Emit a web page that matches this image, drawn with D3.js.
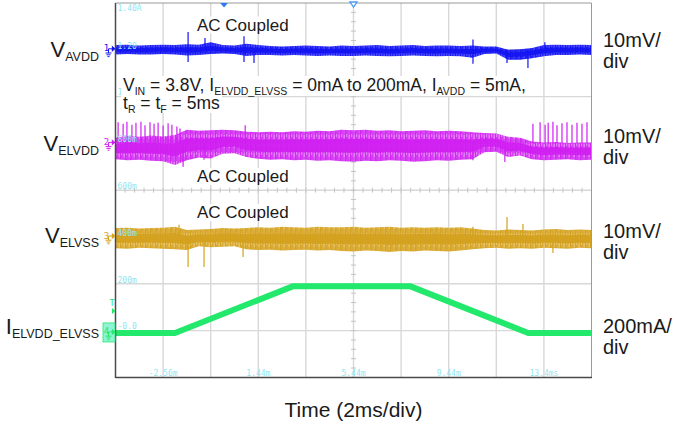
<!DOCTYPE html>
<html>
<head>
<meta charset="utf-8">
<script src="https://cdn.jsdelivr.net/npm/d3@7/dist/d3.min.js"></script>
<style>
  html, body { margin: 0; padding: 0; background: #fff; }
  svg { display: block; font-family: "Liberation Sans", Arial, sans-serif; }
</style>
</head>
<body>
<svg id="scope" width="677" height="428"></svg>
<script>
// ---- Acquisition data -------------------------------------------------
// Envelope sample instants, ms relative to the trigger
const sampleTimes = [-4.56, -4.06, -3.56, -3.06, -2.56, -2.06, -1.56, -1.06, -0.56, -0.06,
  0.44, 0.94, 1.44, 1.94, 2.44, 2.94, 3.44, 3.94, 4.44, 4.94,
  5.44, 5.94, 6.44, 6.94, 7.44, 7.94, 8.44, 8.94, 9.44, 9.94,
  10.44, 10.94, 11.44, 11.94, 12.44, 12.94, 13.44, 13.94, 14.44, 14.94, 15.44];

// CH1  V_AVDD ripple envelope (mV, AC coupled)
const avddHigh = [1.0, 1.1, 0.9, 1.0, 1.1, 1.0, 1.2, 1.1, 1.6, 1.0,
  0.9, 1.3, 1.0, 0.8, 0.7, 0.8, 0.9, 0.8, 0.7, 0.9,
  0.8, 0.9, 1.0, 0.8, 0.9, 1.0, 0.8, 0.9, 0.9, 0.8,
  0.9, 0.7, 0.7, 0.0, 0.1, 0.4, 1.0, 1.1, 1.0, 1.1, 1.0];
const avddLow = [-1.0, -0.9, -1.0, -1.0, -0.9, -1.0, -1.2, -1.1, -0.9, -0.8,
  -0.9, -1.3, -1.1, -1.1, -1.2, -1.1, -1.2, -1.3, -1.2, -1.3,
  -1.3, -1.2, -1.3, -1.4, -1.3, -1.2, -1.3, -1.4, -1.3, -1.4,
  -1.7, -0.9, -0.8, -2.1, -2.1, -1.8, -1.4, -1.1, -1.1, -1.0, -1.1];
const avddSpikes = [[-1.51, 3.8], [-1.51, -2.6], [-0.80, 2.5], [0.84, 2.9], [0.84, -2.6],
  [1.26, -2.8], [10.46, 2.2], [10.46, -3.0], [11.89, -2.8], [12.77, -3.9], [13.48, 1.6]];

// CH2  V_ELVDD ripple envelope (mV, AC coupled)
const elvddHigh = [1.2, 1.6, 1.4, 1.7, 1.5, 1.8, 2.9, 2.7, 2.8, 2.9,
  2.8, 2.5, 2.4, 2.5, 2.4, 2.6, 2.5, 2.7, 2.6, 2.9,
  2.8, 2.9, 2.7, 2.8, 2.6, 2.7, 2.8, 2.6, 2.7, 2.6,
  2.4, 2.2, 2.1, 1.4, 1.2, 0.4, 0.2, 0.3, 0.1, 0.2, 0.2];
const elvddLow = [-3.4, -3.6, -3.5, -3.7, -3.8, -4.6, -3.6, -3.0, -3.2, -2.2,
  -2.1, -2.9, -3.3, -3.5, -3.4, -3.6, -3.5, -3.7, -3.6, -3.8,
  -3.9, -3.7, -3.8, -3.6, -3.7, -3.9, -3.8, -3.6, -3.7, -3.5,
  -3.4, -1.9, -1.8, -2.9, -2.6, -3.4, -3.6, -3.5, -3.4, -3.6, -3.5];
const elvddSpikes = [[-4.45, 4.5], [-4.24, 4.2], [-4.08, 4.6], [-3.87, 4.0], [-3.70, 4.4],
  [-3.49, 4.6], [-3.32, 3.9], [-3.11, 4.5], [-2.94, 4.2], [-2.77, 4.4], [-2.56, 3.8],
  [-2.35, 4.3], [-2.19, 4.0], [-1.98, 3.6], [-1.85, 3.2], [-1.72, -5.0], [-0.84, -3.5],
  [0.89, 3.9], [10.46, -3.6], [11.80, -4.0], [12.98, 4.2], [13.28, 4.5], [13.49, 4.0],
  [13.62, 4.4], [13.82, 4.6], [13.99, 3.9], [14.20, 4.3], [14.41, 4.5], [14.62, 4.0],
  [14.83, 4.4], [15.04, 4.2], [15.25, 4.5]];

// CH3  V_ELVSS ripple envelope (mV, AC coupled)
const elvssHigh = [1.9, 2.0, 1.8, 1.9, 2.0, 2.2, 1.5, 1.6, 1.7, 1.9,
  1.8, 1.9, 2.1, 2.0, 2.2, 2.1, 2.0, 2.2, 2.1, 2.1,
  2.2, 2.0, 2.1, 2.2, 2.0, 2.1, 2.0, 2.1, 2.0, 2.1,
  1.8, 1.5, 1.4, 1.6, 1.5, 1.4, 1.6, 1.7, 1.5, 1.6, 1.5];
const elvssLow = [-2.4, -2.5, -2.3, -2.4, -2.5, -2.6, -2.8, -2.0, -2.2, -2.1,
  -2.0, -2.6, -2.8, -2.7, -2.9, -2.8, -2.7, -2.9, -2.8, -3.0,
  -3.1, -2.9, -3.0, -3.2, -3.0, -3.1, -2.9, -3.0, -3.1, -2.9,
  -2.6, -2.4, -2.3, -2.5, -2.4, -2.5, -2.3, -2.4, -2.5, -2.3, -2.4];
const elvssSpikes = [[-1.89, 2.6], [-1.51, -6.4], [-0.84, -6.4], [0.80, -4.3],
  [10.46, 2.2], [11.89, 4.3], [12.56, 2.8], [13.82, -3.4]];

// CH4  I_ELVDD_ELVSS load step (A)
const loadTimes = [-4.56, -2.06, 2.91, 7.81, 12.78, 15.44];
const loadCurrent = [0, 0, 0.2, 0.2, 0, 0];

// Axis annotations printed by the scope
const timeTickValues = [-2.56, 1.44, 5.44, 9.44, 13.44];
const timeTickLabels = ["-2.56m", "1.44m", "5.44m", "9.44m", "13.4ms"];
const gridLabels = ["1.40A", "1.20", "1.00", "800m", "600m", "400m", "200m", "-0.0"];

// ---- Layout -----------------------------------------------------------
const svg = d3.select("#scope");
const x = d3.scaleLinear().domain([-4.56, 15.44]).range([115.5, 591.5]);   // 2 ms/div
const divY = d3.scaleLinear().domain([0, 8]).range([3, 377.4]);           // divisions from top
const divX = d3.scaleLinear().domain([0, 10]).range([115.5, 591.5]);

const channels = [
  { n: "1", pos: 1.0, perDiv: 10, color: "#1414f2", light: "#4848ff", hi: avddHigh, lo: avddLow, spikes: avddSpikes },
  { n: "2", pos: 3.0, perDiv: 10, color: "#d01ef2", light: "#e27cf7", hi: elvddHigh, lo: elvddLow, spikes: elvddSpikes },
  { n: "3", pos: 5.0, perDiv: 10, color: "#d4a11e", light: "#e6c163", hi: elvssHigh, lo: elvssLow, spikes: elvssSpikes }
];
const load = { n: "4", pos: 7.05, perDiv: 0.2, color: "#22e96c" };
channels.forEach(c => { c.y = v => divY(c.pos - v / c.perDiv); });
load.y = v => divY(load.pos - v / load.perDiv);

// ---- Graticule --------------------------------------------------------
const grid = svg.append("g");
grid.selectAll("line.v").data(d3.range(1, 10)).join("line")
  .attr("x1", d => divX(d)).attr("x2", d => divX(d))
  .attr("y1", divY(0)).attr("y2", divY(8))
  .attr("stroke", "#d8d8d8").attr("stroke-width", 1.4);
grid.selectAll("line.h").data(d3.range(1, 8)).join("line")
  .attr("x1", divX(0)).attr("x2", divX(10))
  .attr("y1", d => divY(d)).attr("y2", d => divY(d))
  .attr("stroke", "#d8d8d8").attr("stroke-width", 1.4);
// minor ticks on the centre crosshair
grid.selectAll("line.ty").data(d3.range(0, 40.01, 1)).join("line")
  .attr("x1", divX(5) - 2.5).attr("x2", divX(5) + 2.5)
  .attr("y1", d => divY(d / 5)).attr("y2", d => divY(d / 5))
  .attr("stroke", "#c4c4c4").attr("stroke-width", 1);
grid.selectAll("line.tx").data(d3.range(0, 50.01, 1)).join("line")
  .attr("y1", divY(4) - 2.5).attr("y2", divY(4) + 2.5)
  .attr("x1", d => divX(d / 5)).attr("x2", d => divX(d / 5))
  .attr("stroke", "#c4c4c4").attr("stroke-width", 1);

// ---- Noise traces -----------------------------------------------------
const defs = svg.append("defs");
channels.forEach(c => {
  // fine vertical persistence texture for the noise band
  const p = defs.append("pattern").attr("id", "hatch" + c.n)
    .attr("patternUnits", "userSpaceOnUse").attr("width", 5).attr("height", 9);
  p.append("rect").attr("width", 5).attr("height", 9).attr("fill", c.light);
  [[0, 0, 9], [1.3, 2, 6], [2.4, 0, 9], [3.6, 4, 5]].forEach(s =>
    p.append("rect").attr("x", s[0]).attr("y", s[1]).attr("width", 0.9).attr("height", s[2])
      .attr("fill", c.color));
});

const traces = svg.append("g");
channels.forEach(c => {
  const idx = d3.range(sampleTimes.length);
  const band = d3.area()
    .x(i => x(sampleTimes[i]))
    .y0(i => c.y(c.lo[i]))
    .y1(i => c.y(c.hi[i]));
  const core = d3.area()
    .x(i => x(sampleTimes[i]))
    .y0(i => c.y(c.lo[i] + 0.28 * (c.hi[i] - c.lo[i])))
    .y1(i => c.y(c.hi[i] - 0.28 * (c.hi[i] - c.lo[i])));
  traces.append("path").attr("d", band(idx)).attr("fill", `url(#hatch${c.n})`);
  traces.append("path").attr("d", core(idx)).attr("fill", c.color).attr("opacity", 0.9);
  traces.selectAll(null).data(c.spikes).join("line")
    .attr("x1", d => x(d[0])).attr("x2", d => x(d[0]))
    .attr("y1", c.y(0)).attr("y2", d => c.y(d[1]))
    .attr("stroke", c.color).attr("stroke-width", 1.2);
});

// load current
traces.append("path")
  .datum(d3.zip(loadTimes, loadCurrent))
  .attr("d", d3.line().x(d => x(d[0])).y(d => load.y(d[1])))
  .attr("fill", "none").attr("stroke", load.color)
  .attr("stroke-width", 6).attr("stroke-linejoin", "round");

// ---- Frame ------------------------------------------------------------
const frame = svg.append("g");
frame.append("line").attr("x1", divX(0)).attr("x2", divX(10)).attr("y1", divY(0)).attr("y2", divY(0))
  .attr("stroke", "#9a9a9a").attr("stroke-width", 1);
frame.append("line").attr("x1", divX(10)).attr("x2", divX(10)).attr("y1", divY(0)).attr("y2", divY(8))
  .attr("stroke", "#9a9a9a").attr("stroke-width", 1);
frame.append("line").attr("x1", divX(0)).attr("x2", divX(0)).attr("y1", divY(0)).attr("y2", divY(8) + 0.5)
  .attr("stroke", "#4a4a4a").attr("stroke-width", 1.5);
frame.append("line").attr("x1", divX(0)).attr("x2", divX(10) + 0.5).attr("y1", divY(8)).attr("y2", divY(8))
  .attr("stroke", "#4a4a4a").attr("stroke-width", 1.5);

// scope readouts (cyan)
const mono = "'DejaVu Sans Mono', monospace";
frame.selectAll("text.g").data(gridLabels).join("text")
  .attr("x", 117.5).attr("y", (d, i) => i === 0 ? divY(0) + 7.8 : divY(i) - 1.3)
  .attr("font-family", mono).attr("font-size", 8).attr("fill", "#8ee6f0").text(d => d);
frame.selectAll("text.t").data(timeTickValues).join("text")
  .attr("x", d => x(d)).attr("y", divY(8) - 1.6).attr("text-anchor", "middle")
  .attr("font-family", mono).attr("font-size", 8).attr("fill", "#8ee6f0")
  .text((d, i) => timeTickLabels[i]);

// trigger position (t = 0) and horizontal centre markers
frame.append("path")
  .attr("d", `M${x(0) - 3.8},${divY(0)} L${x(0) + 3.8},${divY(0)} L${x(0)},${divY(0) + 4.5} Z`)
  .attr("fill", "#2b78f5");
frame.append("path")
  .attr("d", `M${divX(5) - 3.5},${divY(0) - 1} L${divX(5) + 3.5},${divY(0) - 1} L${divX(5)},${divY(0) + 4} Z`)
  .attr("fill", "#fff").attr("stroke", "#4a9cf7").attr("stroke-width", 1.3);

// channel ground markers
function groundMarker(c, boxed) {
  const m = frame.append("g").attr("transform", `translate(0,${c.y(0) - 1})`);
  if (boxed) {
    m.append("rect").attr("x", 103).attr("y", -9).attr("width", 12).attr("height", 19)
      .attr("fill", "#8ff3d4").attr("stroke", c.color).attr("stroke-width", 0.8);
  }
  m.append("text").attr("x", 103.8).attr("y", 2.5).text(c.n)
    .attr("font-family", mono).attr("font-size", 9).attr("fill", c.color);
  m.append("path")
    .attr("d", "M108.5,0 H112 M108.5,0 V4.2 M105.5,4.2 H111.5 M106.5,6 H110.5 M107.5,7.8 H109.5")
    .attr("stroke", c.color).attr("fill", "none").attr("stroke-width", 1);
  m.append("path").attr("d", "M111.8,-3.2 L115.5,0 L111.8,3.2 Z").attr("fill", c.color);
}
channels.forEach(c => groundMarker(c, false));
groundMarker(load, true);
// trigger level marker
frame.append("text").attr("x", 109.5).attr("y", 305.5).text("T")
  .attr("font-family", mono).attr("font-size", 8.5).attr("fill", load.color);
frame.append("path").attr("d", "M112,308 L115.5,311 L112,314 Z").attr("fill", load.color);

// ---- Annotations ------------------------------------------------------
const notes = svg.append("g").attr("fill", "#1a1a1a");

// text with subscript runs; parts are [string, isSubscript]
function richText(g, xPos, yPos, parts, size, subSize, anchor) {
  const t = g.append("text").attr("x", xPos).attr("y", yPos)
    .attr("font-size", size).attr("text-anchor", anchor || "start");
  let wasSub = false;
  parts.forEach(p => {
    const sub = !!p[1];
    const s = t.append("tspan").text(p[0]);
    if (sub) s.attr("font-size", subSize);
    if (sub && !wasSub) s.attr("dy", 4);
    if (!sub && wasSub) s.attr("dy", -4);
    wasSub = sub;
  });
  return t;
}
// white box behind an annotation
function withBackground(t, padX, padY) {
  const b = t.node().getBBox();
  const r = document.createElementNS("http://www.w3.org/2000/svg", "rect");
  t.node().parentNode.insertBefore(r, t.node());
  d3.select(r)
    .attr("x", b.x - padX).attr("y", b.y - padY)
    .attr("width", b.width + 2 * padX).attr("height", b.height + 2 * padY)
    .attr("fill", "#fff");
}

const ac1 = notes.append("text").attr("x", 197).attr("y", 30.5).attr("font-size", 17).text("AC Coupled");
const ac2 = notes.append("text").attr("x", 197).attr("y", 182).attr("font-size", 17).text("AC Coupled");
const ac3 = notes.append("text").attr("x", 197).attr("y", 218).attr("font-size", 17).text("AC Coupled");
[ac1, ac2, ac3].forEach(t => withBackground(t, 1, -1));

const cond1 = richText(notes, 123, 91, [["V"], ["IN", 1], [" = 3.8V, I"], ["ELVDD_ELVSS", 1],
  [" = 0mA to 200mA, I"], ["AVDD", 1], [" = 5mA,"]], 17.5, 10.5);
const cond2 = richText(notes, 123, 109, [["t"], ["R", 1], [" = t"], ["F", 1], [" = 5ms"]], 17.5, 10.5);
withBackground(cond1, 2, -1);
withBackground(cond2, 2, -2);

// channel names (left) and vertical scales (right)
const names = [
  { main: "V", sub: "AVDD", y: 61 },
  { main: "V", sub: "ELVDD", y: 155 },
  { main: "V", sub: "ELVSS", y: 247 },
  { main: "I", sub: "ELVDD_ELVSS", y: 338 }
];
names.forEach(d => richText(notes, 99, d.y - 4, [[d.main], [d.sub, 1]], 22, 12.5, "end"));

const scales = [
  { top: "10mV/", y: 46.5 },
  { top: "10mV/", y: 143 },
  { top: "10mV/", y: 238 },
  { top: "200mA/", y: 333 }
];
scales.forEach(d => {
  notes.append("text").attr("x", 603).attr("y", d.y).attr("font-size", 20).text(d.top);
  notes.append("text").attr("x", 603).attr("y", d.y + 21).attr("font-size", 20).text("div");
});

notes.append("text").attr("x", divX(5)).attr("y", 417).attr("text-anchor", "middle")
  .attr("font-size", 21).text("Time (2ms/div)");
</script>
</body>
</html>
